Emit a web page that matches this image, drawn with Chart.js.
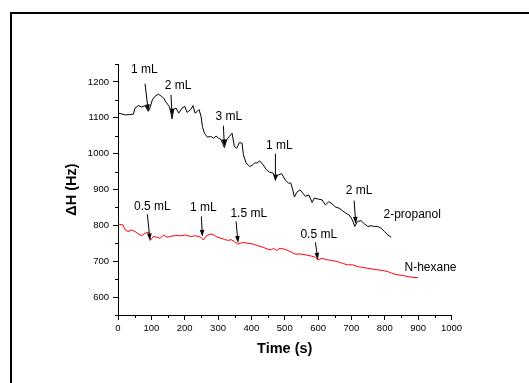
<!DOCTYPE html>
<html>
<head>
<meta charset="utf-8">
<script src="https://cdn.jsdelivr.net/npm/chart.js@4.4.1/dist/chart.umd.min.js"></script>
<style>
  html, body { margin: 0; padding: 0; background: #fff; overflow: hidden; }
  #wrap { width: 529px; height: 383px; position: relative; }
</style>
</head>
<body>
<div id="wrap"><canvas id="chart"></canvas></div>
<script>
// Data
const propanolTime = [0, 10, 22, 35, 46, 51, 61, 71, 81, 91, 96, 103, 111, 121, 130, 137, 142, 152, 157, 162, 167, 174, 182, 192, 200, 207, 218, 225, 231, 238, 243, 249, 253, 259, 268, 278, 287, 294, 302, 309, 314, 319, 326, 334, 342, 349, 356, 364, 372, 376, 384, 395, 403, 410, 417, 425, 435, 445, 455, 465, 473, 481, 491, 501, 511, 518, 524, 529, 536, 546, 554, 562, 572, 582, 589, 602, 612, 622, 632, 642, 652, 663, 673, 683, 693, 703, 710, 718, 729, 739, 749, 759, 769, 779, 789, 799, 809, 819];
const propanolValues = [1113, 1111, 1108, 1109, 1110, 1127, 1134, 1130, 1134, 1118, 1128, 1150, 1160, 1166, 1160, 1155, 1146, 1134, 1123, 1097, 1123, 1127, 1113, 1127, 1132, 1115, 1123, 1134, 1113, 1118, 1123, 1104, 1076, 1057, 1046, 1048, 1043, 1049, 1043, 1039, 1028, 1017, 1039, 1048, 1057, 1020, 1015, 1031, 1029, 997, 974, 964, 968, 974, 974, 980, 969, 955, 948, 946, 932, 941, 944, 927, 918, 918, 899, 879, 892, 899, 890, 881, 885, 864, 876, 873, 871, 857, 866, 860, 851, 848, 841, 834, 829, 815, 797, 811, 813, 804, 797, 799, 797, 797, 792, 783, 773, 767];

const hexaneTime = [0, 15, 22, 30, 41, 51, 61, 71, 81, 91, 97, 106, 116, 126, 137, 147, 157, 172, 187, 202, 218, 233, 248, 256, 265, 278, 288, 298, 309, 319, 329, 339, 349, 359, 374, 390, 405, 420, 435, 450, 460, 467, 475, 486, 501, 516, 531, 546, 561, 577, 592, 599, 612, 627, 642, 658, 673, 688, 703, 718, 733, 749, 764, 779, 794, 809, 825, 840, 855, 870, 885, 900];
const hexaneValues = [804, 801, 787, 783, 787, 783, 776, 771, 778, 781, 758, 769, 767, 764, 773, 767, 769, 772, 771, 773, 769, 771, 767, 759, 771, 776, 773, 767, 764, 761, 758, 760, 755, 748, 752, 750, 748, 743, 739, 733, 732, 736, 730, 736, 733, 727, 720, 720, 718, 715, 711, 704, 708, 704, 702, 699, 694, 690, 690, 685, 683, 680, 678, 676, 674, 671, 665, 662, 660, 657, 655, 654];

const xTicks = [0, 100, 200, 300, 400, 500, 600, 700, 800, 900, 1000];
const yTicks = [600, 700, 800, 900, 1000, 1100, 1200];

// Injection marks: label, where the label sits, arrow tail and arrow tip (time, ΔH)
const markLabels = ['1 mL', '2 mL', '3 mL', '1 mL', '2 mL', '0.5 mL', '1 mL', '1.5 mL', '0.5 mL'];
const markTextAt = [[79, 1233], [180, 1190], [332, 1104], [484, 1023], [723, 897], [103, 852], [256, 850], [392, 833], [602, 773]];
const markTail = [[81, 1195], [159, 1164], [316, 1078], [472, 1000], [708, 869], [88, 831], [250, 825], [354, 811], [592, 753]];
const markTip = [[91, 1118], [162, 1106], [319, 1020], [472, 922], [713, 804], [96, 758], [253, 768], [360, 751], [599, 704]];

const seriesNames = ['2-propanol', 'N-hexane'];
const seriesNameAt = [[882, 829], [937, 682]];

const FONT = "'Liberation Sans', Arial, sans-serif";

function toPoints(xs, ys) {
    return xs.map((x, i) => ({ x: x, y: ys[i] }));
}

// frame, minor ticks, arrows and labels
const extrasPlugin = {
    id: 'extras',
    beforeDraw(chart) {
        const ctx = chart.ctx;
        ctx.save();
        ctx.fillStyle = '#fff';
        ctx.fillRect(0, 0, chart.width, chart.height);
        ctx.strokeStyle = '#000';
        ctx.lineWidth = 2;
        ctx.strokeRect(11, 13, 700, 500);
        ctx.restore();
    },
    afterDraw(chart) {
        const ctx = chart.ctx;
        const xs = chart.scales.x;
        const ys = chart.scales.y;
        ctx.save();

        // minor ticks
        ctx.strokeStyle = '#000';
        ctx.lineWidth = 1;
        ctx.beginPath();
        xs.ticks.forEach(t => {
            if (t.value % 100 !== 0) {
                const px = Math.round(xs.getPixelForValue(t.value)) + 0.5;
                ctx.moveTo(px, xs.top);
                ctx.lineTo(px, xs.top + 3);
            }
        });
        ys.ticks.forEach(t => {
            if (t.value % 100 !== 0) {
                const py = Math.round(ys.getPixelForValue(t.value)) + 0.5;
                ctx.moveTo(ys.right, py);
                ctx.lineTo(ys.right - 3, py);
            }
        });
        ctx.stroke();

        // arrows
        markLabels.forEach((label, i) => {
            const x0 = xs.getPixelForValue(markTail[i][0]);
            const y0 = ys.getPixelForValue(markTail[i][1]);
            const x1 = xs.getPixelForValue(markTip[i][0]);
            const y1 = ys.getPixelForValue(markTip[i][1]);
            const ang = Math.atan2(y1 - y0, x1 - x0);
            const headLen = 7, headW = 2.3;
            const bx = x1 - headLen * Math.cos(ang);
            const by = y1 - headLen * Math.sin(ang);
            ctx.strokeStyle = '#000';
            ctx.lineWidth = 1;
            ctx.beginPath();
            ctx.moveTo(x0, y0);
            ctx.lineTo(bx, by);
            ctx.stroke();
            ctx.fillStyle = '#000';
            ctx.beginPath();
            ctx.moveTo(x1, y1);
            ctx.lineTo(bx + headW * Math.sin(ang), by - headW * Math.cos(ang));
            ctx.lineTo(bx - headW * Math.sin(ang), by + headW * Math.cos(ang));
            ctx.closePath();
            ctx.fill();

            ctx.font = '12px ' + FONT;
            ctx.textAlign = 'center';
            ctx.textBaseline = 'middle';
            ctx.fillText(label, xs.getPixelForValue(markTextAt[i][0]), ys.getPixelForValue(markTextAt[i][1]));
        });

        // series names
        ctx.font = '12px ' + FONT;
        ctx.fillStyle = '#000';
        ctx.textAlign = 'center';
        ctx.textBaseline = 'middle';
        seriesNames.forEach((name, i) => {
            ctx.fillText(name, xs.getPixelForValue(seriesNameAt[i][0]), ys.getPixelForValue(seriesNameAt[i][1]));
        });
        ctx.restore();
    }
};

new Chart(document.getElementById('chart'), {
    type: 'line',
    data: {
        datasets: [
            {
                label: seriesNames[0],
                data: toPoints(propanolTime, propanolValues),
                borderColor: '#000',
                borderWidth: 1,
                pointRadius: 0,
                tension: 0
            },
            {
                label: seriesNames[1],
                data: toPoints(hexaneTime, hexaneValues),
                borderColor: '#ff0000',
                borderWidth: 1,
                pointRadius: 0,
                tension: 0
            }
        ]
    },
    options: {
        responsive: true,
        maintainAspectRatio: false,
        animation: false,
        layout: { padding: { left: 0, top: 64, right: 77.5, bottom: 0 } },
        plugins: {
            legend: { display: false },
            tooltip: { enabled: false }
        },
        scales: {
            x: {
                type: 'linear',
                min: 0,
                max: 1000,
                afterFit: s => { s.height = 68; },
                border: { display: true, color: '#000', width: 1 },
                grid: {
                    drawOnChartArea: false,
                    drawTicks: true,
                    tickLength: 5,
                    tickColor: c => (c.tick && c.tick.value % 100 === 0) ? '#000' : 'rgba(0,0,0,0)'
                },
                ticks: {
                    stepSize: 50,
                    autoSkip: false,
                    maxRotation: 0,
                    padding: 3,
                    color: '#000',
                    font: { family: FONT, size: 9.5 },
                    callback: v => xTicks.includes(v) ? String(v) : ''
                },
                title: {
                    display: true,
                    text: 'Time (s)',
                    color: '#000',
                    font: { family: FONT, size: 14.5, weight: 'bold' },
                    padding: { top: 0, bottom: 25 }
                }
            },
            y: {
                min: 550,
                max: 1250,
                afterFit: s => { s.width = 118; },
                border: { display: true, color: '#000', width: 1 },
                grid: {
                    drawOnChartArea: false,
                    drawTicks: true,
                    tickLength: 5,
                    tickColor: c => (c.tick && c.tick.value % 100 === 0) ? '#000' : 'rgba(0,0,0,0)'
                },
                ticks: {
                    stepSize: 50,
                    autoSkip: false,
                    padding: 4,
                    color: '#000',
                    font: { family: FONT, size: 9.5 },
                    callback: v => yTicks.includes(v) ? String(v) : ''
                },
                title: {
                    display: true,
                    text: 'ΔH (Hz)',
                    color: '#000',
                    font: { family: FONT, size: 14.5, weight: 'bold' },
                    padding: { top: 63, bottom: 0 }
                }
            }
        }
    },
    plugins: [extrasPlugin]
});
</script>
</body>
</html>
